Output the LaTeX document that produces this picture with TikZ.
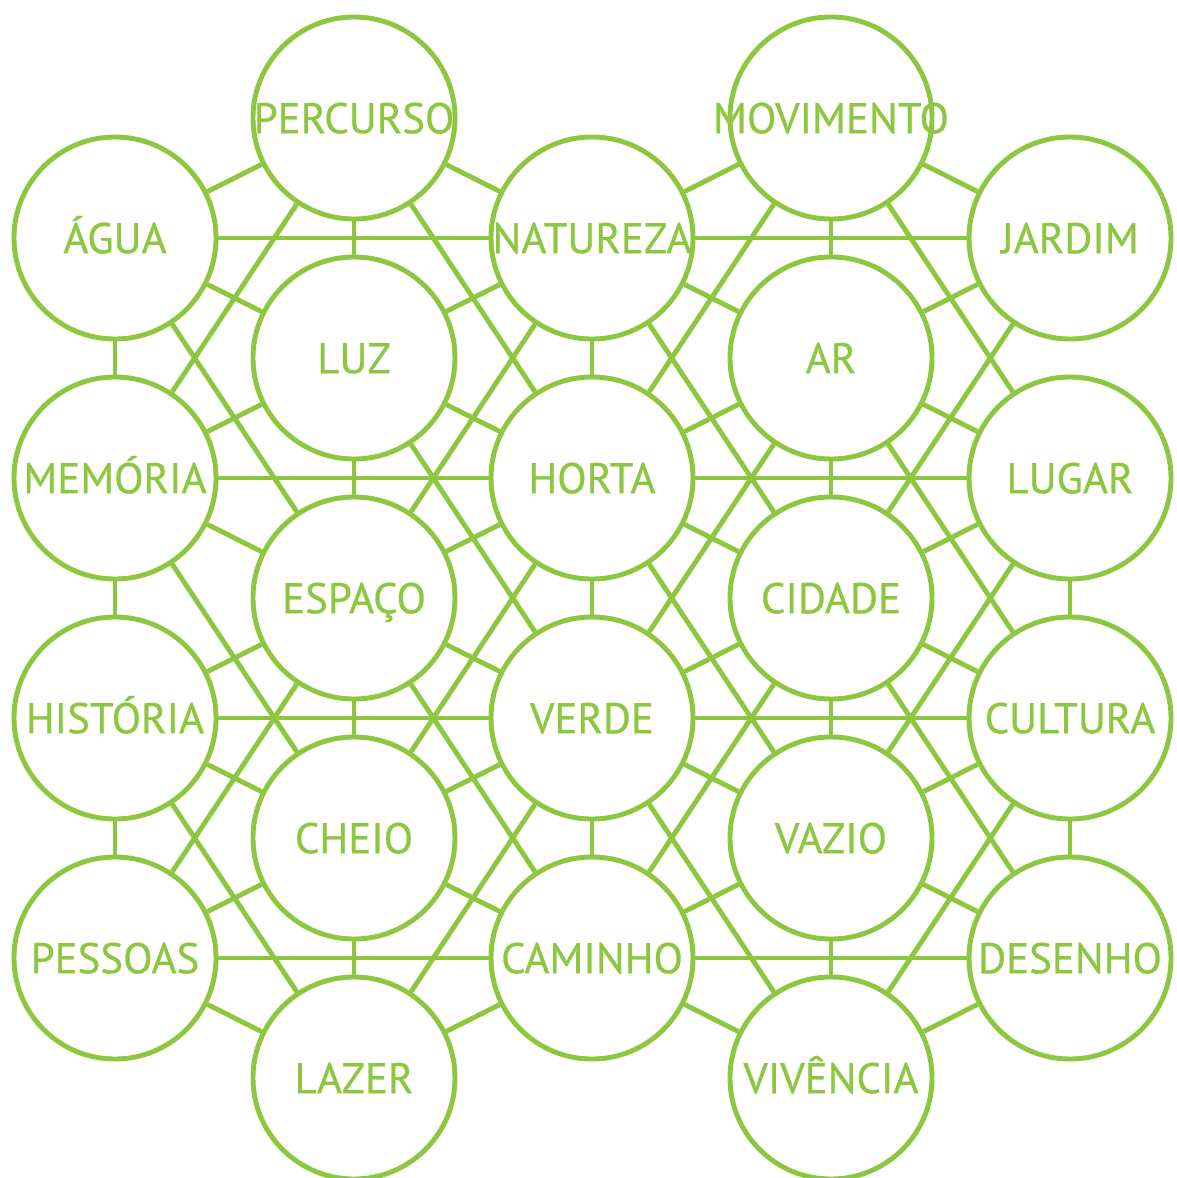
\documentclass[tikz,border=0pt]{standalone}
\usepackage{fontspec}
\setmainfont{PT Sans}
\newfontfamily\lblfont{PT Sans}[FakeBold=0.6]
\definecolor{leaf}{RGB}{141,198,63}
\newcommand\wnode[4]{\node[wcirc] (#1) at (#2,#3) {\raisebox{-10.8pt}[0pt][0pt]{\makebox[0pt]{#4}}};}
\begin{document}
\begin{tikzpicture}[x=0.025cm,y=-0.025cm,
  wcirc/.style={circle,draw=leaf,line width=3.5pt,fill=white,minimum size=5.05cm,inner sep=0pt,
    text=leaf,font=\lblfont\fontsize{30.5}{36}\selectfont},
  link/.style={draw=leaf,line width=3.5pt}]
\useasboundingbox (0,0) rectangle (1177,1178);
% column 0
\wnode{agua}{115}{238}{ÁGUA}
\wnode{memoria}{115}{478}{MEMÓRIA}
\wnode{historia}{115}{718}{HISTÓRIA}
\wnode{pessoas}{115}{958}{PESSOAS}
% column 1
\wnode{percurso}{354}{118}{PERCURSO}
\wnode{luz}{354}{358}{LUZ}
\wnode{espaco}{354}{598}{ESPAÇO}
\wnode{cheio}{354}{838}{CHEIO}
\wnode{lazer}{354}{1078}{LAZER}
% column 2
\wnode{natureza}{592}{238}{NATUREZA}
\wnode{horta}{592}{478}{HORTA}
\wnode{verde}{592}{718}{VERDE}
\wnode{caminho}{592}{958}{CAMINHO}
% column 3
\wnode{movimento}{831}{118}{MOVIMENTO}
\wnode{ar}{831}{358}{AR}
\wnode{cidade}{831}{598}{CIDADE}
\wnode{vazio}{831}{838}{VAZIO}
\wnode{vivencia}{831}{1078}{VIVÊNCIA}
% column 4
\wnode{jardim}{1070}{238}{JARDIM}
\wnode{lugar}{1070}{478}{LUGAR}
\wnode{cultura}{1070}{718}{CULTURA}
\wnode{desenho}{1070}{958}{DESENHO}
% vertical links
\foreach \a/\b in {agua/memoria,memoria/historia,historia/pessoas,
  percurso/luz,luz/espaco,espaco/cheio,cheio/lazer,
  natureza/horta,horta/verde,verde/caminho,
  movimento/ar,ar/cidade,cidade/vazio,vazio/vivencia,
  lugar/cultura,cultura/desenho}
  \draw[link] (\a) -- (\b);
% horizontal links
\foreach \a/\b in {agua/natureza,natureza/jardim,memoria/horta,horta/lugar,
  historia/verde,verde/cultura,pessoas/caminho,caminho/desenho}
  \draw[link] (\a) -- (\b);
% short diagonals
\foreach \a/\b in {agua/percurso,agua/luz,memoria/luz,memoria/espaco,
  historia/espaco,historia/cheio,pessoas/cheio,pessoas/lazer,
  percurso/natureza,luz/natureza,luz/horta,espaco/horta,espaco/verde,
  cheio/verde,cheio/caminho,lazer/caminho,
  natureza/movimento,natureza/ar,horta/ar,horta/cidade,verde/cidade,
  verde/vazio,caminho/vazio,caminho/vivencia,
  movimento/jardim,ar/jardim,ar/lugar,cidade/lugar,cidade/cultura,
  vazio/cultura,vazio/desenho,vivencia/desenho}
  \draw[link] (\a) -- (\b);
% long diagonals
\foreach \a/\b in {agua/espaco,memoria/percurso,memoria/cheio,historia/lazer,
  pessoas/espaco,percurso/horta,luz/verde,espaco/natureza,espaco/caminho,
  cheio/horta,lazer/verde,
  movimento/horta,movimento/lugar,natureza/cidade,jardim/cidade,ar/verde,
  ar/cultura,cidade/caminho,cidade/desenho,vazio/horta,vazio/lugar,
  verde/vivencia,cultura/vivencia}
  \draw[link] (\a) -- (\b);
\end{tikzpicture}
\end{document}
